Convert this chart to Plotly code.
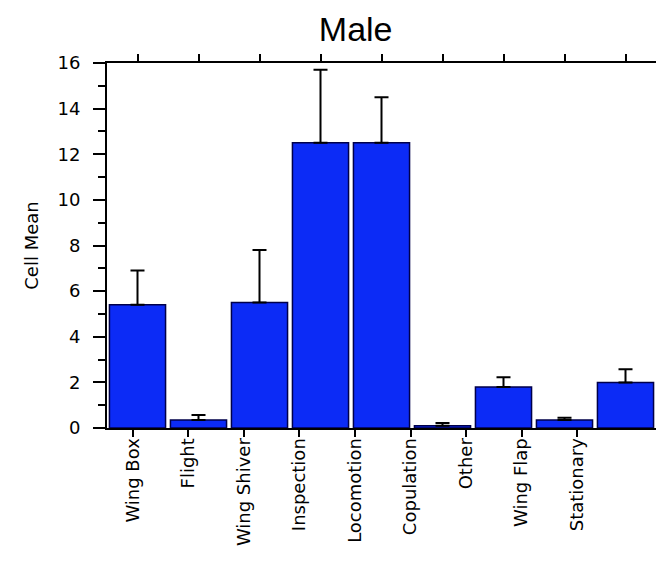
import plotly.graph_objects as go

categories = ["Wing Box", "Flight", "Wing Shiver", "Inspection", "Locomotion",
              "Copulation", "Other", "Wing Flap", "Stationary"]
cell_mean = [5.4, 0.35, 5.5, 12.5, 12.5, 0.1, 1.8, 0.35, 2.0]
error_plus = [1.5, 0.22, 2.3, 3.2, 2.0, 0.12, 0.42, 0.1, 0.57]
y_ticks = [0, 2, 4, 6, 8, 10, 12, 14, 16]

fig = go.Figure()
fig.add_trace(go.Bar(
    x=categories, y=cell_mean,
    marker=dict(color="#0c2bf6", line=dict(color="#00004a", width=1.5)),
    error_y=dict(type="data", array=error_plus, arrayminus=[0] * len(cell_mean),
                 symmetric=False, color="black", thickness=2, width=7),
    showlegend=False, xaxis="x", yaxis="y",
))
fig.add_trace(go.Scatter(
    x=categories, y=[0] * len(categories), mode="markers",
    marker=dict(opacity=0), hoverinfo="skip", showlegend=False,
    xaxis="x2", yaxis="y2",
))

tick_font = dict(family="DejaVu Sans", size=18, color="black")
# page body adds an 8px offset, so the figure is 8px smaller than the window
fig.update_layout(
    width=656, height=575,
    margin=dict(l=99, r=8, t=55, b=155, autoexpand=False),
    paper_bgcolor="white", plot_bgcolor="white",
    bargap=0.08,
    title=dict(text="Male", x=0.53, xanchor="center", y=0.963, yanchor="middle",
               font=dict(family="Liberation Sans", size=34, color="black")),
    xaxis=dict(type="category", categoryarray=categories, categoryorder="array",
               range=[-0.5, 8.5], side="top", showticklabels=False, automargin=False,
               ticks="outside", ticklen=7, tickwidth=2, tickcolor="black",
               showline=True, linewidth=2, linecolor="black", showgrid=False,
               zeroline=False),
    xaxis2=dict(type="category", categoryarray=categories, categoryorder="array",
                overlaying="x", side="bottom", anchor="y", automargin=False,
                range=[-0.468, 9.423], tickangle=-90, tickfont=tick_font,
                ticklabelstandoff=-6,
                ticks="outside", ticklen=7, tickwidth=2, tickcolor="black",
                showline=True, linewidth=2, linecolor="black", showgrid=False,
                zeroline=False),
    yaxis=dict(range=[0, 16], tickvals=y_ticks, ticks="outside", ticklen=12,
               tickwidth=2, tickcolor="black", showline=True, linewidth=2,
               linecolor="black", showgrid=False, zeroline=False, automargin=False,
               ticklabelstandoff=9,
               tickfont=dict(family="DejaVu Sans", size=18, color="black"),
               minor=dict(dtick=1, ticks="outside", ticklen=7, tickwidth=2,
                          tickcolor="black", showgrid=False),
               title=dict(text="Cell Mean", standoff=14,
                          font=dict(family="DejaVu Sans", size=18, color="black"))),
    yaxis2=dict(range=[0, 16], overlaying="y", side="right", anchor="x",
                dtick=1, showticklabels=False, ticks="outside", ticklen=7,
                automargin=False,
                tickwidth=2, tickcolor="black", showline=True, linewidth=2,
                linecolor="black", showgrid=False, zeroline=False),
)

fig.write_html("out.html")
